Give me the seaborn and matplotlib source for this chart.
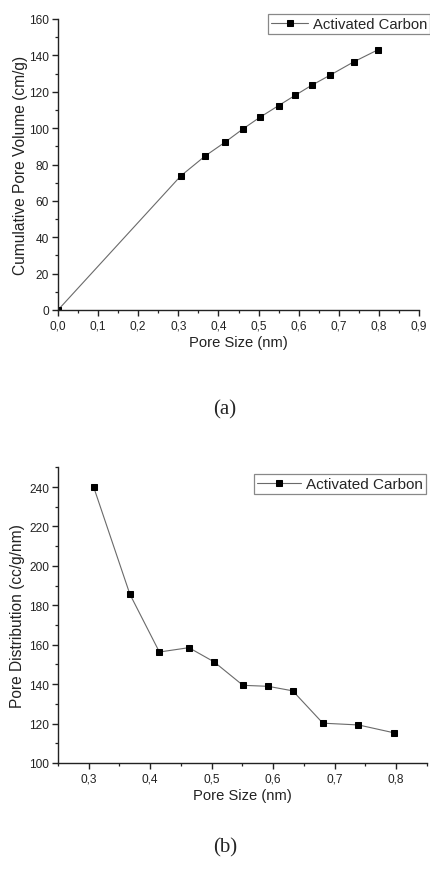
import matplotlib
matplotlib.use("Agg")
import matplotlib.pyplot as plt
import seaborn as sns
import numpy as np
from matplotlib.ticker import MultipleLocator, FuncFormatter

# Data
cum_size = [0.0, 0.306, 0.367, 0.416, 0.462, 0.503, 0.550, 0.591, 0.632, 0.679, 0.737, 0.797]
cum_volume = [0.0, 73.7, 84.7, 92.2, 99.7, 105.9, 112.4, 118.0, 123.5, 129.2, 136.4, 143.0]

dist_size = [0.308, 0.367, 0.415, 0.463, 0.504, 0.551, 0.592, 0.632, 0.681, 0.739, 0.797]
dist_value = [240.0, 185.6, 156.3, 158.5, 151.3, 139.4, 138.9, 136.6, 120.2, 119.3, 115.3]

series_name = "Activated Carbon"
xlabel = "Pore Size (nm)"
ylabel_a = "Cumulative Pore Volume (cm/g)"
ylabel_b = "Pore Distribution (cc/g/nm)"

sns.set_style("ticks")
plt.rcParams['font.family'] = ['Liberation Sans', 'DejaVu Sans']

W, H = 431, 870
fig = plt.figure(figsize=(W / 100, H / 100), dpi=100)

def px_axes(l, t, r, b):
    return fig.add_axes([l / W, 1 - b / H, (r - l) / W, (b - t) / H])

ax1 = px_axes(58, 20, 419, 311)
ax2 = px_axes(58, 468.3, 426.7, 764)

line_kw = dict(marker='s', color='#6a6a6a', linewidth=0.8, markersize=5.0,
               markerfacecolor='black', markeredgecolor='black', label=series_name)

sns.lineplot(x=cum_size, y=cum_volume, ax=ax1, sort=False, **line_kw)
sns.lineplot(x=dist_size, y=dist_value, ax=ax2, sort=False, **line_kw)

comma = lambda d: FuncFormatter(lambda v, p: (f"{v:.{d}f}").replace('.', ','))

ax1.set_xlim(0, 0.9)
ax1.set_ylim(0, 160)
ax1.xaxis.set_major_locator(MultipleLocator(0.1))
ax1.xaxis.set_minor_locator(MultipleLocator(0.05))
ax1.yaxis.set_major_locator(MultipleLocator(20))
ax1.yaxis.set_minor_locator(MultipleLocator(10))
ax1.xaxis.set_major_formatter(comma(1))

ax2.set_xlim(0.25, 0.85)
ax2.set_ylim(100, 250)
ax2.xaxis.set_major_locator(MultipleLocator(0.1))
ax2.xaxis.set_minor_locator(MultipleLocator(0.05))
ax2.yaxis.set_major_locator(MultipleLocator(20))
ax2.yaxis.set_minor_locator(MultipleLocator(10))
ax2.xaxis.set_major_formatter(comma(1))

for ax, yl in ((ax1, ylabel_a), (ax2, ylabel_b)):
    sns.despine(ax=ax)
    for s in ('left', 'bottom'):
        ax.spines[s].set_color('#222222')
        ax.spines[s].set_linewidth(1.0)
    ax.tick_params(which='major', direction='out', length=4.5, width=1.0,
                   labelsize=8.6, colors='#222222', pad=2)
    ax.tick_params(which='minor', direction='out', length=2.5, width=0.9, colors='#222222')
    ax.set_xlabel(xlabel, fontsize=10.6, color='#222222', labelpad=3)
    ax.set_ylabel(yl, fontsize=11.2, color='#222222')
    ax.legend_.remove()

ax1.yaxis.set_label_coords((28 - 58) / 361, 0.5)
ax2.yaxis.set_label_coords((25 - 58) / 368.7, 0.5)

for ax, (rx, ty, fs, hl) in ((ax1, (430, 15, 10.7, 2.5)), (ax2, (425.7, 475, 11.0, 2.9))):
    leg = ax.legend(loc='upper right', bbox_to_anchor=(rx / W, 1 - ty / H),
                    bbox_transform=fig.transFigure, borderaxespad=0,
                    frameon=True, fancybox=False, edgecolor='#888888',
                    fontsize=fs, handlelength=hl, handletextpad=0.3,
                    borderpad=0.2, framealpha=1)
    leg.get_frame().set_linewidth(0.9)

fig.text(225 / W, 1 - 410 / H, "(a)", ha='center', va='center', fontsize=15,
         family=['Liberation Serif', 'DejaVu Serif'])
fig.text(225 / W, 1 - 848 / H, "(b)", ha='center', va='center', fontsize=15,
         family=['Liberation Serif', 'DejaVu Serif'])

fig.savefig("out.png", dpi=100)
